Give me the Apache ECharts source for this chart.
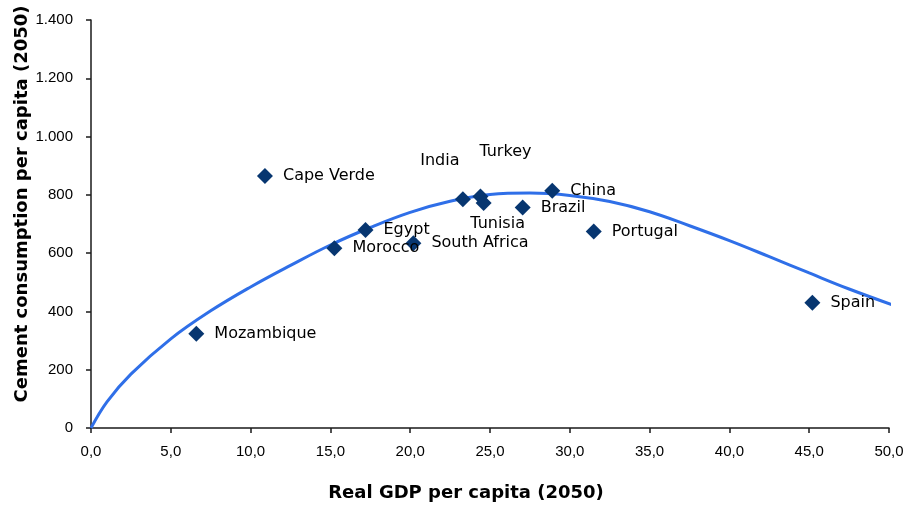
<!DOCTYPE html>
<html>
<head>
<meta charset="utf-8">
<script src="https://cdn.jsdelivr.net/npm/echarts@6/dist/echarts.min.js"></script>
<style>
  html, body { margin: 0; padding: 0; background: #ffffff; }
  #chart { width: 910px; height: 505px; }
</style>
</head>
<body>
<div id="chart"></div>
<script>
// Countries and their 2050 projections
const countries = ['Mozambique', 'Cape Verde', 'Morocco', 'Egypt', 'South Africa', 'India',
                   'Turkey', 'Tunisia', 'Brazil', 'China', 'Portugal', 'Spain'];
const gdpPerCapita = [6.6, 10.9, 15.25, 17.2, 20.2, 23.3, 24.4, 24.6, 27.05, 28.9, 31.5, 45.2];
const cementPerCapita = [323, 865, 617, 679, 634, 785, 794, 772, 757, 814, 674, 430];

// Trend curve samples (GDP, cement)
const trendGdp = [0, 1, 2.5, 5, 7.5, 10, 12.5, 15, 17.5, 20, 22.5, 25, 27.5, 30,
                  32.5, 35, 37.5, 40, 42.5, 45, 47.5, 50.4];
const trendCement = [0, 90, 185, 306, 402, 484, 558, 628, 688, 740, 778, 801, 806, 798,
                     777, 742, 694, 643, 588, 532, 477, 419];

// Tick labels
const xTickLabels = ['0,0', '5,0', '10,0', '15,0', '20,0', '25,0', '30,0', '35,0', '40,0', '45,0', '50,0'];
const yTickLabels = ['0', '200', '400', '600', '800', '1.000', '1.200', '1.400'];

const X_STEP = 5, Y_STEP = 200;
const MARKER = 16;

// Labels that sit away from the default right-hand spot (shift of label centre from marker centre)
const labelShift = {
  'India':   [-23, -38],
  'Turkey':  [25, -45],
  'Tunisia': [14, 21]
};

const pointData = countries.map((name, i) => {
  const item = { name: name, value: [gdpPerCapita[i], cementPerCapita[i]] };
  const s = labelShift[name];
  if (s) {
    item.label = {
      position: [MARKER / 2 + s[0], MARKER / 2 + s[1]],
      align: 'center',
      verticalAlign: 'middle'
    };
  }
  return item;
});

const trendData = trendGdp.map((x, i) => [x, trendCement[i]]);

const axisColor = '#1a1a1a';

const chart = echarts.init(document.getElementById('chart'), null, { renderer: 'canvas' });
chart.setOption({
  backgroundColor: '#ffffff',
  animation: false,
  grid: { left: 91, right: 21, top: 20, bottom: 77, containLabel: false },
  xAxis: {
    type: 'value',
    min: 0, max: 50, interval: X_STEP,
    axisLine: { show: true, onZero: false, lineStyle: { color: axisColor, width: 1.5 } },
    axisTick: { show: true, inside: false, length: 5, lineStyle: { color: axisColor, width: 1.5 } },
    splitLine: { show: false },
    axisLabel: {
      margin: 16,
      color: '#000',
      fontFamily: 'Liberation Sans',
      fontSize: 15,
      formatter: v => xTickLabels[Math.round(v / X_STEP)]
    }
  },
  yAxis: {
    type: 'value',
    min: 0, max: 1400, interval: Y_STEP,
    axisLine: { show: true, onZero: false, lineStyle: { color: axisColor, width: 1.5 } },
    axisTick: { show: true, inside: false, length: 5, lineStyle: { color: axisColor, width: 1.5 } },
    splitLine: { show: false },
    axisLabel: {
      margin: 18,
      color: '#000',
      fontFamily: 'Liberation Sans',
      fontSize: 15,
      formatter: v => yTickLabels[Math.round(v / Y_STEP)]
    }
  },
  graphic: [
    {
      type: 'text',
      x: 466, y: 493,
      style: {
        text: 'Real GDP per capita (2050)',
        fill: '#000',
        font: 'bold 18px "DejaVu Sans"',
        align: 'center',
        verticalAlign: 'middle'
      }
    },
    {
      type: 'text',
      x: 22, y: 204,
      rotation: Math.PI / 2,
      style: {
        text: 'Cement consumption per capita (2050)',
        fill: '#000',
        font: 'bold 18px "DejaVu Sans"',
        align: 'center',
        verticalAlign: 'middle'
      }
    }
  ],
  series: [
    {
      type: 'line',
      data: trendData,
      smooth: 0.4,
      showSymbol: false,
      symbol: 'none',
      clip: false,
      z: 1,
      lineStyle: { color: '#2f6fe8', width: 3 }
    },
    {
      type: 'scatter',
      data: pointData,
      symbol: 'diamond',
      symbolSize: MARKER,
      z: 3,
      itemStyle: { color: '#073670', opacity: 1 },
      label: {
        show: true,
        position: 'right',
        distance: 10,
        formatter: p => p.name,
        color: '#000',
        fontFamily: 'DejaVu Sans',
        fontSize: 16
      },
      labelLayout: { hideOverlap: false }
    }
  ]
});
</script>
</body>
</html>
